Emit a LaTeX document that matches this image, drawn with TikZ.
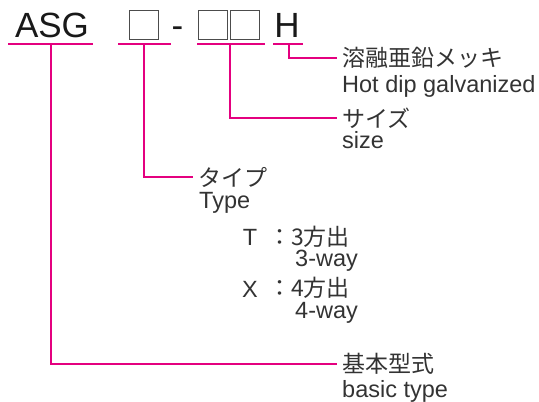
\documentclass[tikz,border=0pt]{standalone}
\usepackage{fontspec}
\setmainfont{Liberation Sans}
\newfontfamily\jpfont{Noto Sans CJK JP}
\usetikzlibrary{positioning}
\definecolor{mgline}{HTML}{E4007F}
\definecolor{txtgray}{HTML}{333333}

\begin{document}
\begin{tikzpicture}[x=1pt, y=-1pt,
  code/.style={font=\fontsize{35}{35}\selectfont, text=black!90, inner sep=0pt, anchor=base},
  blank/.style={draw=black!70, line width=1pt, minimum size=29pt, inner sep=0pt},
  uline/.style={draw=mgline, line width=1.3pt},
  lead/.style={draw=mgline, line width=1.3pt},
  jp/.style={font=\jpfont\fontsize{23}{23}\selectfont, text=txtgray, inner xsep=5pt, inner ysep=0pt, anchor=west},
  en/.style={font=\fontsize{23.5}{23.5}\selectfont, text=txtgray, inner sep=0pt, anchor=base west}]
  \useasboundingbox (0,0) rectangle (539,402);

  % model code
  \node[code] (asg) at (52,37) {ASG};
  \node[blank] (b1) at (143.5,25) {};
  \node[code] (dash) at (177.5,37) {-};
  \node[blank] (b2) at (212.5,25) {};
  \node[blank] (b3) at (245,25) {};
  \node[code] (hz) at (287,37) {H};

  % underlines and taps
  \draw[uline] (8,44) -- (93,44);
  \draw[uline] (118,44) -- (171,44);
  \draw[uline] (197,44) -- (265,44);
  \draw[uline] (273,44) -- (303,44);
  \coordinate (tA) at (51,44);
  \coordinate (tB) at (144,44);
  \coordinate (tC) at (230,44);
  \coordinate (tD) at (289,44);

  % labels
  \node[jp] (galv) at (337,58) {溶融亜鉛メッキ};
  \node[en] (galven) at (342,92) {Hot dip galvanized};
  \node[jp] (size) at (337,118) {サイズ};
  \node[en] (sizeen) at (342,148) {size};
  \node[jp] (type) at (193,177) {タイプ};
  \node[en] (typeen) at (199,208) {Type};
  \node[en, anchor=base] (tcode) at (250,245) {T};
  \node[jp, inner xsep=0pt] (tway) at (268,237) {：3方出};
  \node[en] (twayen) at (295,266) {3-way};
  \node[en, anchor=base] (xcode) at (250,297) {X};
  \node[jp, inner xsep=0pt] (xway) at (268,288) {：4方出};
  \node[en] (xwayen) at (295,318) {4-way};
  \node[jp] (basic) at (337,364) {基本型式};
  \node[en] (basicen) at (342,397) {basic type};

  % leaders
  \draw[lead] (tD) |- (galv.west);
  \draw[lead] (tC) |- (size.west);
  \draw[lead] (tB) |- (type.west);
  \draw[lead] (tA) |- (basic.west);
\end{tikzpicture}
\end{document}
